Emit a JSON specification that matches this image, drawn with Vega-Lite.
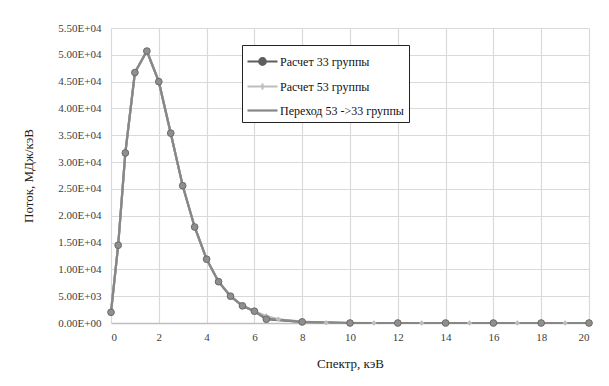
{
  "$schema": "https://vega.github.io/schema/vega-lite/v6.json",
  "width": 478,
  "height": 295,
  "autosize": "none",
  "padding": {"left": 111, "top": 28, "right": 20, "bottom": 63},
  "background": "white",
  "config": {
    "view": {"stroke": null},
    "font": "Liberation Serif",
    "axis": {"labelFont": "Liberation Serif", "titleFont": "Liberation Serif", "labelColor": "#404040", "titleColor": "#202020", "titleFontWeight": "normal", "gridColor": "#d9d9d9", "gridWidth": 1.2, "ticks": false, "domain": false},
    "legend": {"labelFont": "Liberation Serif"}
  },
  "data": {"values": [
    {"x": 0, "y": 2000, "s": "Расчет 33 группы"},
    {"x": 0.3, "y": 14500, "s": "Расчет 33 группы"},
    {"x": 0.6, "y": 31700, "s": "Расчет 33 группы"},
    {"x": 1.0, "y": 46700, "s": "Расчет 33 группы"},
    {"x": 1.5, "y": 50700, "s": "Расчет 33 группы"},
    {"x": 2.0, "y": 45000, "s": "Расчет 33 группы"},
    {"x": 2.5, "y": 35400, "s": "Расчет 33 группы"},
    {"x": 3.0, "y": 25600, "s": "Расчет 33 группы"},
    {"x": 3.5, "y": 17900, "s": "Расчет 33 группы"},
    {"x": 4.0, "y": 11900, "s": "Расчет 33 группы"},
    {"x": 4.5, "y": 7700, "s": "Расчет 33 группы"},
    {"x": 5.0, "y": 5000, "s": "Расчет 33 группы"},
    {"x": 5.5, "y": 3200, "s": "Расчет 33 группы"},
    {"x": 6.0, "y": 2200, "s": "Расчет 33 группы"},
    {"x": 6.5, "y": 700, "s": "Расчет 33 группы"},
    {"x": 8, "y": 200, "s": "Расчет 33 группы"},
    {"x": 10, "y": 0, "s": "Расчет 33 группы"},
    {"x": 12, "y": 0, "s": "Расчет 33 группы"},
    {"x": 14, "y": 0, "s": "Расчет 33 группы"},
    {"x": 16, "y": 0, "s": "Расчет 33 группы"},
    {"x": 18, "y": 0, "s": "Расчет 33 группы"},
    {"x": 20, "y": 0, "s": "Расчет 33 группы"},
    {"x": 0, "y": 2000, "s": "Расчет 53 группы"},
    {"x": 0.3, "y": 14500, "s": "Расчет 53 группы"},
    {"x": 0.6, "y": 31700, "s": "Расчет 53 группы"},
    {"x": 1.0, "y": 46700, "s": "Расчет 53 группы"},
    {"x": 1.5, "y": 50700, "s": "Расчет 53 группы"},
    {"x": 2.0, "y": 45000, "s": "Расчет 53 группы"},
    {"x": 2.5, "y": 35400, "s": "Расчет 53 группы"},
    {"x": 3.0, "y": 25600, "s": "Расчет 53 группы"},
    {"x": 3.5, "y": 17900, "s": "Расчет 53 группы"},
    {"x": 4.0, "y": 11900, "s": "Расчет 53 группы"},
    {"x": 4.5, "y": 7700, "s": "Расчет 53 группы"},
    {"x": 5.0, "y": 5000, "s": "Расчет 53 группы"},
    {"x": 5.5, "y": 3200, "s": "Расчет 53 группы"},
    {"x": 6.0, "y": 2200, "s": "Расчет 53 группы"},
    {"x": 6.5, "y": 1300, "s": "Расчет 53 группы"},
    {"x": 7, "y": 700, "s": "Расчет 53 группы"},
    {"x": 8, "y": 250, "s": "Расчет 53 группы"},
    {"x": 9, "y": 60, "s": "Расчет 53 группы"},
    {"x": 10, "y": 20, "s": "Расчет 53 группы"},
    {"x": 11, "y": 0, "s": "Расчет 53 группы"},
    {"x": 12, "y": 0, "s": "Расчет 53 группы"},
    {"x": 13, "y": 0, "s": "Расчет 53 группы"},
    {"x": 14, "y": 0, "s": "Расчет 53 группы"},
    {"x": 15, "y": 0, "s": "Расчет 53 группы"},
    {"x": 16, "y": 0, "s": "Расчет 53 группы"},
    {"x": 17, "y": 0, "s": "Расчет 53 группы"},
    {"x": 18, "y": 0, "s": "Расчет 53 группы"},
    {"x": 19, "y": 0, "s": "Расчет 53 группы"},
    {"x": 20, "y": 0, "s": "Расчет 53 группы"},
    {"x": 0, "y": 2000, "s": "Переход 53 ->33 группы"},
    {"x": 0.3, "y": 14500, "s": "Переход 53 ->33 группы"},
    {"x": 0.6, "y": 31700, "s": "Переход 53 ->33 группы"},
    {"x": 1.0, "y": 46700, "s": "Переход 53 ->33 группы"},
    {"x": 1.5, "y": 50700, "s": "Переход 53 ->33 группы"},
    {"x": 2.0, "y": 45000, "s": "Переход 53 ->33 группы"},
    {"x": 2.5, "y": 35400, "s": "Переход 53 ->33 группы"},
    {"x": 3.0, "y": 25600, "s": "Переход 53 ->33 группы"},
    {"x": 3.5, "y": 17900, "s": "Переход 53 ->33 группы"},
    {"x": 4.0, "y": 11900, "s": "Переход 53 ->33 группы"},
    {"x": 4.5, "y": 7700, "s": "Переход 53 ->33 группы"},
    {"x": 5.0, "y": 5000, "s": "Переход 53 ->33 группы"},
    {"x": 5.5, "y": 3200, "s": "Переход 53 ->33 группы"},
    {"x": 6.0, "y": 2200, "s": "Переход 53 ->33 группы"},
    {"x": 6.5, "y": 800, "s": "Переход 53 ->33 группы"},
    {"x": 8, "y": 200, "s": "Переход 53 ->33 группы"},
    {"x": 10, "y": 0, "s": "Переход 53 ->33 группы"},
    {"x": 12, "y": 0, "s": "Переход 53 ->33 группы"},
    {"x": 14, "y": 0, "s": "Переход 53 ->33 группы"},
    {"x": 16, "y": 0, "s": "Переход 53 ->33 группы"},
    {"x": 18, "y": 0, "s": "Переход 53 ->33 группы"},
    {"x": 20, "y": 0, "s": "Переход 53 ->33 группы"}
  ]},
  "encoding": {
    "x": {"field": "x", "type": "quantitative", "scale": {"domain": [0, 20], "nice": false},
      "axis": {"values": [0, 2, 4, 6, 8, 10, 12, 14, 16, 18, 20], "title": "Спектр, кэВ", "labelFontSize": 11, "labelPadding": 8, "titleFontSize": 13, "titlePadding": 15, "domain": true, "domainColor": "#bfbfbf", "domainWidth": 1.5}},
    "y": {"field": "y", "type": "quantitative", "scale": {"domain": [0, 55000], "nice": false},
      "axis": {"values": [0, 5000, 10000, 15000, 20000, 25000, 30000, 35000, 40000, 45000, 50000, 55000], "labelExpr": "replace(format(datum.value, '.2e'), 'e+', 'E+0')", "title": "Поток, МДж/кэВ", "labelFontSize": 11, "labelPadding": 10, "titleFontSize": 13, "titlePadding": 22}}
  },
  "layer": [
    {
      "mark": {"type": "line", "strokeWidth": 2.2},
      "encoding": {
        "color": {"field": "s", "type": "nominal",
          "scale": {"domain": ["Расчет 33 группы", "Расчет 53 группы", "Переход 53 ->33 группы"], "range": ["#5e5e5e", "#bdbdbd", "#878787"]},
          "legend": {"title": null, "orient": "none", "legendX": 131, "legendY": 17, "fillColor": "white", "strokeColor": "#222222", "padding": 5, "rowPadding": 5, "labelFontSize": 12, "labelColor": "#111111", "labelOffset": 10, "symbolSize": 400, "symbolStrokeWidth": 2.2,
            "symbolType": "M-1.1,0H1.9",
            "encode": {"symbols": {"update": {
              "shape": {"signal": "datum.value === 'Расчет 33 группы' ? 'M-1.1,0H1.9M0.07,0A0.33,0.33 0 1,0 0.73,0A0.33,0.33 0 1,0 0.07,0' : datum.value === 'Расчет 53 группы' ? 'M-1.1,0H1.9M0.4,-0.3V0.3' : 'M-1.1,0H1.9'"},
              "fill": {"scale": "color", "field": "value"},
              "fillOpacity": {"value": 1}
            }}}}
        },
        "order": {"field": "s", "type": "nominal"}
      }
    },
    {
      "transform": [{"filter": "datum.s == 'Расчет 53 группы'"}],
      "mark": {"type": "point", "shape": "diamond", "size": 30, "filled": true, "color": "#bdbdbd", "opacity": 1}
    },
    {
      "transform": [{"filter": "datum.s == 'Расчет 33 группы'"}],
      "mark": {"type": "point", "shape": "circle", "size": 45, "filled": true, "fill": "#8f8f8f", "stroke": "#6a6a6a", "strokeWidth": 1, "opacity": 1}
    }
  ]
}
